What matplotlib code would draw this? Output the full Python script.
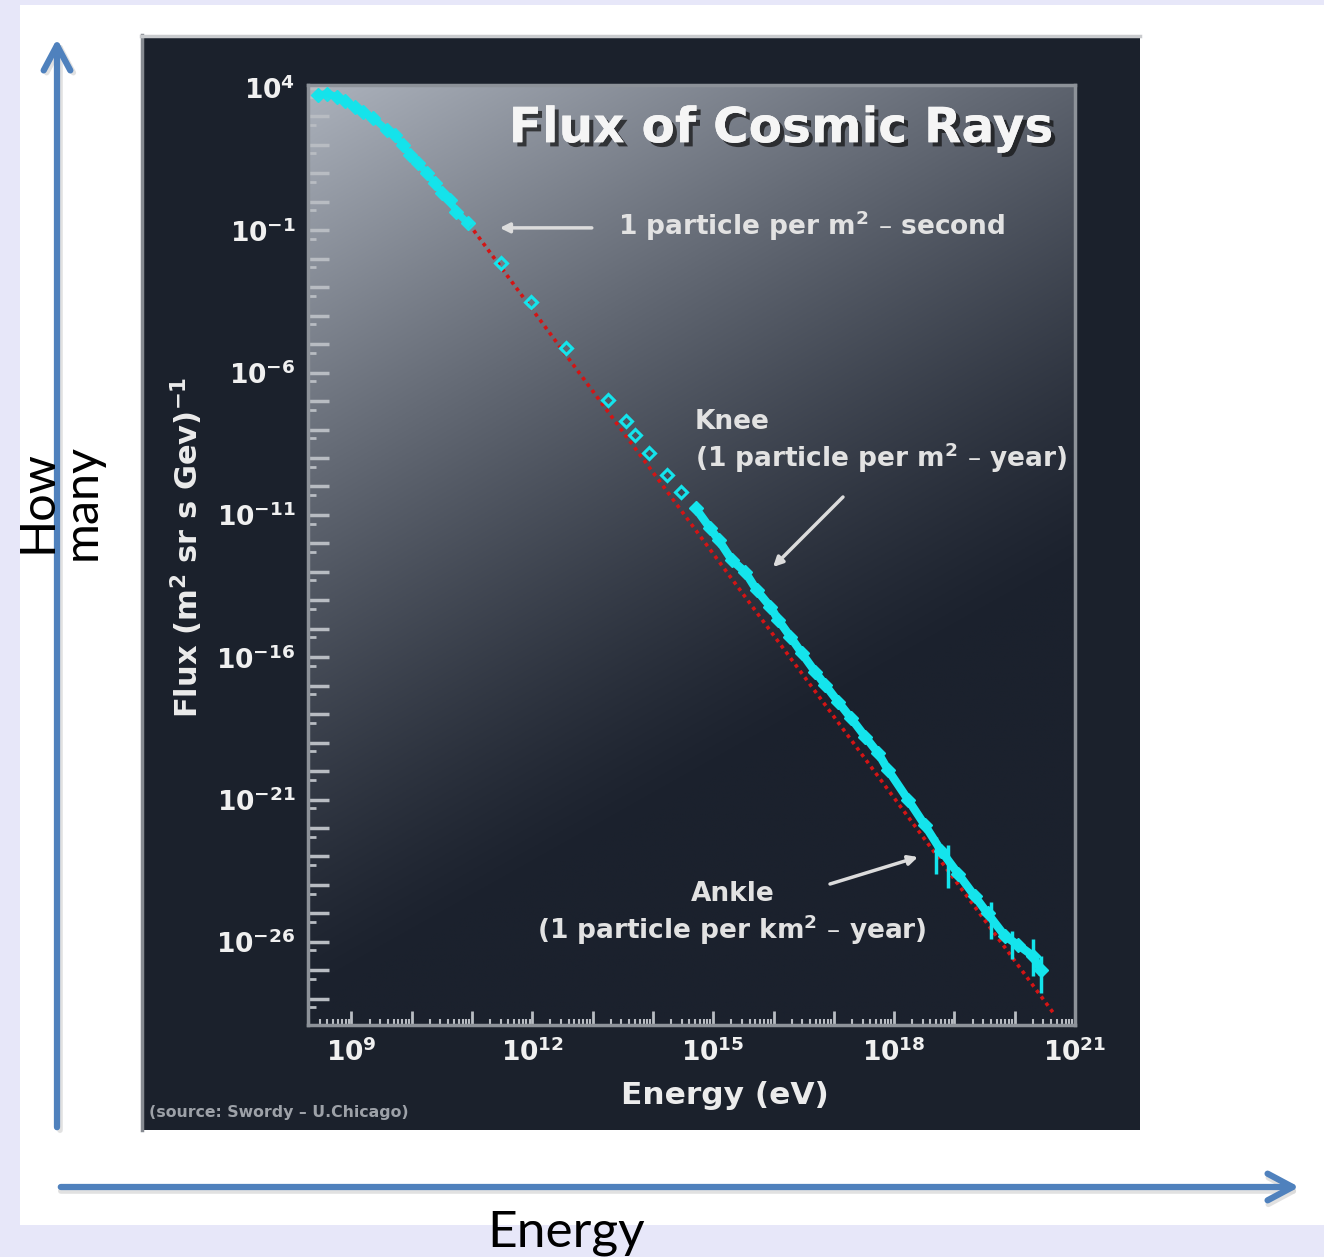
import numpy as np
import matplotlib
matplotlib.use('Agg')
import matplotlib.pyplot as plt
from matplotlib import patheffects
from matplotlib.patches import Rectangle, FancyArrowPatch
from matplotlib.ticker import FixedLocator, FuncFormatter, NullFormatter

plt.rcParams['font.family'] = ['DejaVu Sans']
plt.rcParams['font.weight'] = 'bold'
plt.rcParams['mathtext.default'] = 'regular'

# measured spectrum, log10 of energy (eV) and flux (m^2 sr s GeV)^-1
low_log_e = [8.45, 8.60, 8.76, 8.89, 9.06, 9.19, 9.36, 9.59, 9.72, 9.85,
             9.97, 10.10, 10.25, 10.38, 10.50, 10.63, 10.74, 10.93]
low_log_flux = [3.76, 3.80, 3.70, 3.54, 3.33, 3.16, 2.95, 2.52, 2.35, 2.00,
                1.65, 1.37, 1.01, 0.66, 0.31, 0.07, -0.36, -0.74]

mid_log_e = [11.48, 11.98, 12.56, 13.25, 13.55, 13.70, 13.93, 14.24, 14.47]
mid_log_flux = [-2.16, -3.51, -5.15, -6.96, -7.69, -8.19, -8.84, -9.60, -10.19]

high_log_e = [14.71, 14.95, 15.09, 15.31, 15.53, 15.72, 15.95, 16.08, 16.28,
              16.47, 16.69, 16.86, 17.07, 17.29, 17.52, 17.74, 17.90, 18.23,
              18.51, 18.78, 19.06, 19.34, 19.55, 19.84, 20.05, 20.31, 20.43]
high_log_flux = [-10.77, -11.47, -11.88, -12.59, -13.00, -13.64, -14.23, -14.69,
                 -15.28, -15.86, -16.51, -16.98, -17.56, -18.15, -18.79, -19.38,
                 -19.96, -21.00, -21.90, -22.80, -23.60, -24.40, -25.00, -25.80,
                 -26.10, -26.50, -27.00]

# scatter of the highest energy points
err_log_e = [18.70, 18.90, 19.60, 19.95, 20.31, 20.43]
err_log_lo = [-23.6, -24.1, -25.9, -26.6, -27.2, -27.8]
err_log_hi = [-22.3, -22.6, -24.6, -25.6, -25.9, -26.5]

# power law guide
fit_log_e = [10.95, 20.66]
fit_log_flux = [-0.78, -28.55]

CYAN = '#14e4ec'

fig = plt.figure(figsize=(13.24, 12.57), dpi=100)
fig.patch.set_facecolor('#e7e7f9')

# slide background in pixel units
bg = fig.add_axes([0, 0, 1, 1])
bg.set_xlim(0, 1324)
bg.set_ylim(1257, 0)
bg.axis('off')
bg.add_patch(Rectangle((20, 5), 1304, 1220, fc='white', ec='none'))
bg.add_patch(Rectangle((141, 35), 999, 1095, fc='#1b212c', ec='none'))
bg.plot([142, 142], [1130, 35], color='#868a91', lw=2.5)
bg.plot([141, 1140], [36, 36], color='#c9cbce', lw=2.5)

for (p0, p1), off in [(((57, 1130), (57, 36)), (3, 3)), (((58, 1187), (1302, 1187)), (0, 4))]:
    shadow = FancyArrowPatch((p0[0] + off[0], p0[1] + off[1]), (p1[0] + off[0], p1[1] + off[1]),
                             arrowstyle='->,head_length=0.6,head_width=0.32', mutation_scale=30,
                             color='#dadada', lw=4, alpha=0.8)
    bg.add_patch(shadow)
    arr = FancyArrowPatch(p0, p1, arrowstyle='->,head_length=0.6,head_width=0.32',
                          mutation_scale=30, color='#4f81bd', lw=4.5)
    bg.add_patch(arr)

bg.text(60, 560, 'How\nmany', rotation=90, ha='center', va='bottom', fontsize=35,
        family=['Lato', 'DejaVu Sans'], weight='normal', color='black', linespacing=1.0)
bg.text(566, 1246, 'Energy', ha='center', va='baseline', fontsize=37,
        family=['Lato', 'DejaVu Sans'], weight='normal', color='black')
bg.text(149, 1112, '(source: Swordy \u2013 U.Chicago)', color='#9da1a8', fontsize=11.3,
        ha='left', va='center')

rect = [308 / 1324, 1 - 1025 / 1257, 767 / 1324, 940 / 1257]

# shaded plot background
gax = fig.add_axes(rect)
gx, gy = np.meshgrid(np.linspace(0, 767, 400), np.linspace(0, 940, 480))
s = np.clip(1 - (0.09 * gx + 0.16 * gy) / 147, 0, 1) ** 1.25
light = np.array([172, 178, 188]) / 255
dark = np.array([27, 33, 45]) / 255
img = dark + (light - dark) * s[..., None]
gax.imshow(img, extent=[0, 1, 0, 1], aspect='auto', origin='upper')
gax.axis('off')

ax = fig.add_axes(rect)
ax.set_facecolor('none')
ax.set_xscale('log')
ax.set_yscale('log')

ax.plot(10.0 ** np.array(fit_log_e), 10.0 ** np.array(fit_log_flux), color='#d41414',
        ls=(0, (1, 1.2)), lw=2.6, zorder=2)
ax.plot(10.0 ** np.array(low_log_e), 10.0 ** np.array(low_log_flux), color=CYAN,
        lw=5, marker='D', ms=7, alpha=0.95, zorder=3)
ax.plot(10.0 ** np.array(mid_log_e), 10.0 ** np.array(mid_log_flux), ls='none',
        marker='D', ms=6.5, mfc='none', mec=CYAN, mew=2.2, zorder=3)
ax.plot(10.0 ** np.array(high_log_e), 10.0 ** np.array(high_log_flux), color=CYAN,
        lw=6, marker='D', ms=7, zorder=3)
ax.vlines(10.0 ** np.array(err_log_e), 10.0 ** np.array(err_log_lo),
          10.0 ** np.array(err_log_hi), color=CYAN, lw=2.5, zorder=3)

ax.set_xlim(10 ** 8.28, 1e21)
ax.set_ylim(10 ** -28.92, 10 ** 4.105)


def xlab(v, pos):
    e = int(round(np.log10(v)))
    return rf'$10^{{{e}}}$' if e % 3 == 0 else ''


def ylab(v, pos):
    e = int(round(np.log10(v)))
    return rf'$10^{{{e}}}$' if (e - 4) % 5 == 0 else ''


ax.xaxis.set_major_locator(FixedLocator(10.0 ** np.arange(8, 22)))
ax.xaxis.set_minor_locator(FixedLocator([m * 10.0 ** k for k in range(8, 21) for m in range(2, 10)]))
ax.xaxis.set_major_formatter(FuncFormatter(xlab))
ax.xaxis.set_minor_formatter(NullFormatter())
ax.yaxis.set_major_locator(FixedLocator(10.0 ** np.arange(-29, 5)))
ax.yaxis.set_minor_locator(FixedLocator(0.5 * 10.0 ** np.arange(-28, 5)))
ax.yaxis.set_major_formatter(FuncFormatter(ylab))
ax.yaxis.set_minor_formatter(NullFormatter())

ax.tick_params(which='both', direction='in', color='#b8bcc2', labelcolor='#f0f0f0',
               top=False, right=False)
ax.tick_params(axis='x', which='major', length=10, width=2, labelsize=19, pad=10)
ax.tick_params(axis='x', which='minor', length=4, width=1.5)
ax.tick_params(axis='y', which='major', length=15, width=2.5, labelsize=19, pad=9)
ax.tick_params(axis='y', which='minor', length=6, width=2)
for sp in ax.spines.values():
    sp.set_color('#8d9299')
    sp.set_linewidth(2.5)

ax.text(-0.158, 0.5085, r'Flux (m$^2$ sr s Gev)$^{-1}$', transform=ax.transAxes,
        rotation=90, ha='center', va='center', fontsize=22, color='#ececec')
ax.text(0.5437, -0.0745, 'Energy (eV)', transform=ax.transAxes, ha='center',
        va='center', fontsize=22.5, color='#ececec')

ax.text(0.617, 0.954, 'Flux of Cosmic Rays', transform=ax.transAxes, ha='center',
        va='center', fontsize=35, color='#f5f5f5',
        path_effects=[patheffects.withSimplePatchShadow(offset=(3, -3), shadow_rgbFace='#101010', alpha=0.7),
                      patheffects.Normal()])

note_kw = dict(transform=ax.transAxes, fontsize=19, color='#e2e2e2', va='center')
arrow_kw = dict(arrowstyle='-|>', color='#dcdcdc', lw=2.5, mutation_scale=14,
                shrinkA=0, shrinkB=0)

ax.text(0.404, 0.850, '1 particle per m$^2$ \u2013 second', ha='left', **note_kw)
ax.annotate('', xy=(0.250, 0.848), xytext=(0.370, 0.848), xycoords='axes fraction',
            arrowprops=arrow_kw)

ax.text(0.5046, 0.6415, 'Knee', ha='left', **note_kw)
ax.text(0.5046, 0.603, '(1 particle per m$^2$ \u2013 year)', ha='left', **note_kw)
ax.annotate('', xy=(0.6063, 0.4872), xytext=(0.6975, 0.5617), xycoords='axes fraction',
            arrowprops=arrow_kw)

ax.text(0.554, 0.1394, 'Ankle', ha='center', **note_kw)
ax.text(0.5528, 0.101, '(1 particle per km$^2$ \u2013 year)', ha='center', **note_kw)
ax.annotate('', xy=(0.7953, 0.1787), xytext=(0.6806, 0.15), xycoords='axes fraction',
            arrowprops=arrow_kw)

fig.savefig('out.png', dpi=100)
